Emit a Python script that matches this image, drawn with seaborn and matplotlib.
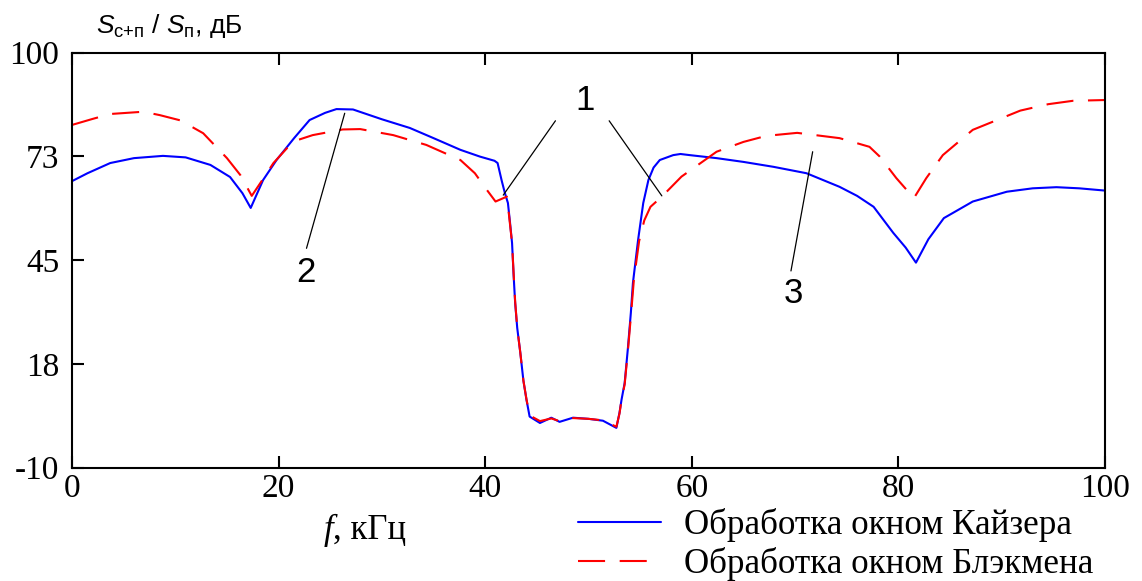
import numpy as np
import pandas as pd
import matplotlib
matplotlib.use("Agg")
import matplotlib.pyplot as plt
import seaborn as sns

# ---- data ----
kaiser_f = [0, 1.5, 3.7, 6, 8.8, 11, 13.4, 15.3, 16.5, 17.3, 18.5, 19.8, 21.5, 23.0, 24.5,
            25.6, 27.2, 30, 32.7, 35, 37.6, 39.5, 40.9, 41.2, 41.6, 41.9, 42.2, 42.4, 42.6,
            42.75, 42.9, 43.1, 43.4, 43.7, 44.0, 44.3, 45.3, 46.4, 47.2, 48.5, 50.0, 51.4,
            52.7, 53.0, 53.2, 53.5, 53.8, 54.1, 54.3, 54.8, 55.3, 55.8, 56.3, 56.9, 58.2,
            58.9, 59.8, 62.4, 65, 67.9, 71.1, 74.3, 76, 77.6, 79.5, 80.7, 81.7, 82.9, 84.4,
            87.2, 90.5, 93, 95.3, 97.5, 100]
kaiser_s = [65.9, 68.0, 70.7, 72.0, 72.6, 72.2, 70.2, 67.0, 62.7, 58.8, 66.2, 71.5, 77.3, 82.1, 84.0,
            85.0, 84.9, 82.3, 80.0, 77.3, 74.2, 72.4, 71.3, 70.7, 66.0, 62.8, 60.1, 55.0, 49.5,
            41.0, 33.6, 27.0, 20.4, 13.0, 7.9, 3.5, 1.8, 3.2, 2.1, 3.2, 2.9, 2.4,
            0.5, 4.5, 8.0, 12.4, 21.2, 31.0, 38.9, 50.3, 60.1, 66.2, 69.5, 71.5, 72.8,
            73.1, 72.8, 72.0, 71.0, 69.7, 68.0, 64.4, 62.0, 59.1, 52.2, 48.3, 44.3, 50.5, 56.1,
            60.5, 63.1, 64.0, 64.3, 64.0, 63.4]

blackman_f = [0, 2, 3.7, 6.9, 8.5, 10.5, 12.7, 15.0, 16.3, 17.4, 18.5, 19.5, 21.4, 23.3, 26.2,
              27.9, 31.1, 34.3, 37.6, 39, 40.1, 41.0, 42.1, 42.3, 42.6, 42.75, 42.9, 43.1, 43.4,
              43.7, 44.0, 44.3, 45.3, 46.4, 47.2, 48.5, 50.0, 51.4, 52.7, 53.0, 53.2, 53.5,
              53.8, 54.1, 54.4, 54.9, 55.4, 56.0, 57.1, 59.0, 62.4, 65, 67.2, 70.2, 74.3, 77.2,
              78.2, 79.8, 81.5, 82.7, 84.3, 87.2, 91.8, 94.5, 96.9, 100]
blackman_s = [80.8, 82.4, 83.7, 84.3, 83.4, 82.0, 78.6, 72.0, 67.5, 62.0, 66.5, 70.7, 76.4, 78.1, 79.6,
              79.7, 78.1, 75.5, 71.5, 68.0, 63.8, 60.5, 61.8, 57.0, 49.5, 41.5, 34.0, 27.0, 20.4,
              13.0, 8.0, 3.8, 2.3, 3.0, 2.3, 3.1, 2.9, 2.5, 0.8, 4.3, 8.0, 12.0,
              20.5, 30.0, 40.0, 50.0, 55.5, 59.1, 61.8, 67.1, 73.7, 76.3, 77.9, 78.7, 77.3, 75.0,
              72.4, 66.7, 61.4, 66.7, 72.8, 79.5, 84.6, 86.3, 87.2, 87.4]

series_names = ["Обработка окном Кайзера", "Обработка окном Блэкмена"]
y_ticks = [100, 72.5, 45, 17.5, -10]
y_tick_labels = ["100", "73", "45", "18", "-10"]
x_ticks = [0, 20, 40, 60, 80, 100]
x_tick_labels = ["0", "20", "40", "60", "80", "100"]
marker_labels = ["1", "2", "3"]

df = pd.concat([
    pd.DataFrame({"f": kaiser_f, "S": kaiser_s, "window": series_names[0]}),
    pd.DataFrame({"f": blackman_f, "S": blackman_s, "window": series_names[1]}),
], ignore_index=True)

# ---- style ----
sns.set_style("white")
plt.rcParams["font.family"] = ["Liberation Serif", "DejaVu Serif"]
plt.rcParams["text.color"] = "black"
plt.rcParams["axes.unicode_minus"] = False
plt.rcParams["mathtext.fontset"] = "custom"
plt.rcParams["mathtext.rm"] = "Liberation Sans"
plt.rcParams["mathtext.it"] = "Liberation Sans:italic"

fig = plt.figure(figsize=(11.42, 5.81), dpi=100)
ax = fig.add_axes([72 / 1142, 1 - 467.5 / 581, (1105 - 72) / 1142, (467.5 - 52.5) / 581])

sns.lineplot(data=df, x="f", y="S", hue="window", style="window",
             palette={series_names[0]: "#0000ff", series_names[1]: "#ff0000"},
             dashes={series_names[0]: "", series_names[1]: (13, 7)},
             sort=False, estimator=None, linewidth=1.5, legend=False, ax=ax)

ax.set_xlim(0, 100)
ax.set_ylim(-10, 100)
ax.set_xticks(x_ticks)
ax.set_xticklabels(x_tick_labels)
ax.set_yticks(y_ticks)
ax.set_yticklabels(y_tick_labels)
ax.set_xlabel("")
ax.set_ylabel("")
ax.tick_params(axis="both", direction="in", length=8.5, width=1.5, labelsize=24,
               colors="black", top=True, right=False, left=True, bottom=True)
ax.tick_params(axis="y", pad=9)
ax.tick_params(axis="x", pad=4)
for sp in ax.spines.values():
    sp.set_color("black")
    sp.set_linewidth(1.5)
    sp.set_visible(True)

# ---- annotations ----
line_kw = dict(xycoords="data", textcoords="data",
               arrowprops=dict(arrowstyle="-", color="black", lw=0.9, shrinkA=0, shrinkB=0))
txt_kw = dict(fontsize=25, family="Liberation Sans", ha="center", va="center", color="black")
ax.text(49.7, 87.4, marker_labels[0], **txt_kw)
ax.annotate("", xy=(41.75, 62.2), xytext=(46.8, 81.9), **line_kw)
ax.annotate("", xy=(57.1, 62.0), xytext=(52.0, 81.9), **line_kw)
ax.text(22.65, 41.6, marker_labels[1], **txt_kw)
ax.annotate("", xy=(26.4, 83.9), xytext=(22.7, 48.1), **line_kw)
ax.text(69.8, 36.0, marker_labels[2], **txt_kw)
ax.annotate("", xy=(71.7, 73.7), xytext=(69.6, 42.1), **line_kw)

# ---- axis titles ----
fig.text(96 / 1142, 1 - 33 / 581, r"$S_{\mathrm{с{+}п}}$ / $S_{\mathrm{п}}$, дБ",
         fontsize=19, family="Liberation Sans", ha="left", va="baseline", color="black")
fig.text(333 / 1142, 1 - 539 / 581, "f", fontsize=25, style="italic", ha="right",
         va="baseline", color="black")
fig.text(333 / 1142, 1 - 539 / 581, ", кГц", fontsize=25, ha="left", va="baseline", color="black")

# ---- legend ----
handles = ax.get_lines()[:2]
fig.legend(handles, series_names, loc="upper left", bbox_to_anchor=(578 / 1142, 1 - 508 / 581),
           frameon=False, fontsize=25.2, borderpad=0, borderaxespad=0, handlelength=2.38,
           handletextpad=0.65, labelspacing=0.15)

fig.savefig("out.png", dpi=100)
